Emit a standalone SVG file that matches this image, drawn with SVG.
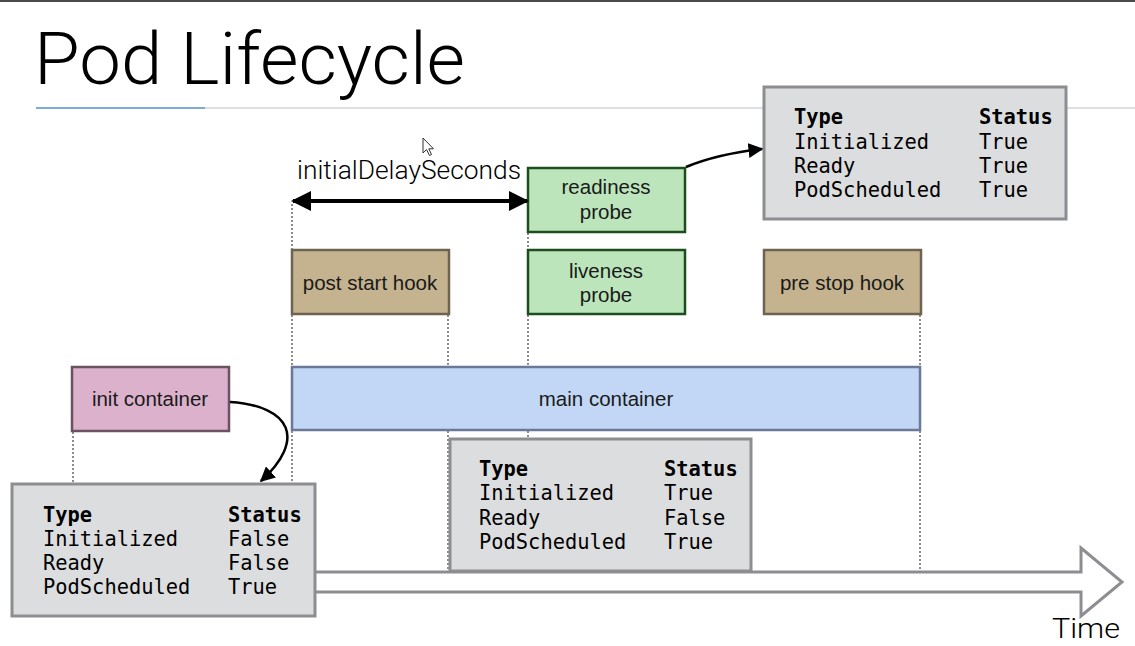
<svg xmlns="http://www.w3.org/2000/svg" width="1135" height="646" viewBox="0 0 1135 646">
  <style>
    .title { font-family: Roboto, "Liberation Sans", sans-serif; font-weight: 300; fill: #000; }
    .lbl { font-family: "Liberation Sans", Arial, sans-serif; font-size: 20.5px; fill: #1a1a1a; text-anchor: middle; }
    .mono { font-family: "DejaVu Sans Mono", "Liberation Mono", monospace; font-size: 20.4px; fill: #000; }
    .mono .h { font-weight: bold; }
    .status { fill: #dcdddf; stroke: #8d8e92; stroke-width: 3; }
    .green { fill: #bce5bc; stroke: #1d4e1d; stroke-width: 2.5; }
    .tan { fill: #c4b38e; stroke: #6e6350; stroke-width: 2.5; }
    .dot { stroke: #8c8c8c; stroke-width: 2; stroke-dasharray: 2 2; fill: none; }
    .conn { stroke: #000; fill: none; }
  </style>
  <defs>
    <marker id="head" viewBox="0 0 10 10" refX="9" refY="5" markerWidth="5" markerHeight="5" orient="auto-start-reverse">
      <path d="M0,0 L10,5 L0,10 z" fill="#000"/>
    </marker>
    <marker id="headSmall" viewBox="0 0 10 10" refX="9" refY="5" markerWidth="6" markerHeight="6" orient="auto">
      <path d="M0,0 L10,5 L0,10 z" fill="#000"/>
    </marker>
  </defs>

  <rect width="1135" height="646" fill="#fff"/>
  <!-- window edge and title rule -->
  <rect x="0" y="0" width="1135" height="2" fill="#4a4a4a"/>
  <line x1="36" y1="108" x2="1135" y2="108" stroke="#d4d4d4" stroke-width="1.5"/>
  <line x1="36" y1="108" x2="205" y2="108" stroke="#5b9bd5" stroke-width="1.5"/>

  <text class="title" x="34" y="84" font-size="72" textLength="431" lengthAdjust="spacingAndGlyphs">Pod Lifecycle</text>

  <!-- time axis: hollow arrow -->
  <g id="time-axis">
    <path d="M300,572 L1081,572 L1081,548 L1122,582 L1081,616 L1081,592 L300,592" fill="#fff" stroke="#8e8e92" stroke-width="3" stroke-linejoin="miter"/>
    <text class="title" x="1052" y="638" font-size="28" textLength="68" lengthAdjust="spacingAndGlyphs">Time</text>
  </g>

  <!-- timeline guides -->
  <g id="guides">
    <line class="dot" x1="73" y1="432" x2="73" y2="483"/>
    <line class="dot" x1="292" y1="204" x2="292" y2="250"/>
    <line class="dot" x1="292" y1="315" x2="292" y2="367"/>
    <line class="dot" x1="292" y1="431" x2="292" y2="483"/>
    <line class="dot" x1="448" y1="315" x2="448" y2="367"/>
    <line class="dot" x1="448" y1="431" x2="448" y2="572"/>
    <line class="dot" x1="528" y1="233" x2="528" y2="250"/>
    <line class="dot" x1="528" y1="315" x2="528" y2="367"/>
    <line class="dot" x1="528" y1="431" x2="528" y2="438"/>
    <line class="dot" x1="920" y1="315" x2="920" y2="367"/>
    <line class="dot" x1="920" y1="431" x2="920" y2="572"/>
  </g>

  <g id="init-container">
    <rect x="72" y="367" width="157" height="64" fill="#dbb1cb" stroke="#6b5260" stroke-width="2.5"/>
    <text class="lbl" x="150" y="406">init container</text>
  </g>

  <g id="main-container">
    <rect x="292" y="367" width="628" height="63" fill="#c2d6f5" stroke="#6b7896" stroke-width="2.5"/>
    <text class="lbl" x="606" y="406">main container</text>
  </g>

  <g id="post-start-hook">
    <rect class="tan" x="292" y="250" width="157" height="64"/>
    <text class="lbl" x="370" y="290">post start hook</text>
  </g>

  <g id="pre-stop-hook">
    <rect class="tan" x="764" y="250" width="157" height="64"/>
    <text class="lbl" x="842" y="290">pre stop hook</text>
  </g>

  <g id="readiness-probe">
    <rect class="green" x="528" y="168" width="157" height="64"/>
    <text class="lbl" x="606" y="194">readiness</text>
    <text class="lbl" x="606" y="219">probe</text>
  </g>

  <g id="liveness-probe">
    <rect class="green" x="528" y="250" width="157" height="64"/>
    <text class="lbl" x="606" y="278">liveness</text>
    <text class="lbl" x="606" y="302">probe</text>
  </g>

  <g id="delay-label">
    <text class="title" x="297" y="179" font-size="25" fill="#111" textLength="224" lengthAdjust="spacingAndGlyphs">initialDelaySeconds</text>
  </g>

  <g id="status-start">
    <rect class="status" x="12" y="484" width="303" height="132"/>
    <text class="mono" x="43" y="522"><tspan class="h">Type</tspan><tspan class="h" x="228">Status</tspan></text>
    <text class="mono" x="43" y="546">Initialized<tspan x="228">False</tspan></text>
    <text class="mono" x="43" y="570">Ready<tspan x="228">False</tspan></text>
    <text class="mono" x="43" y="594">PodScheduled<tspan x="228">True</tspan></text>
  </g>

  <g id="status-running">
    <rect class="status" x="450" y="439" width="301" height="132"/>
    <text class="mono" x="479" y="476"><tspan class="h">Type</tspan><tspan class="h" x="664">Status</tspan></text>
    <text class="mono" x="479" y="500">Initialized<tspan x="664">True</tspan></text>
    <text class="mono" x="479" y="525">Ready<tspan x="664">False</tspan></text>
    <text class="mono" x="479" y="549">PodScheduled<tspan x="664">True</tspan></text>
  </g>

  <g id="status-ready">
    <rect class="status" x="764" y="87" width="302" height="132"/>
    <text class="mono" x="794" y="124"><tspan class="h">Type</tspan><tspan class="h" x="979">Status</tspan></text>
    <text class="mono" x="794" y="149">Initialized<tspan x="979">True</tspan></text>
    <text class="mono" x="794" y="173">Ready<tspan x="979">True</tspan></text>
    <text class="mono" x="794" y="197">PodScheduled<tspan x="979">True</tspan></text>
  </g>

  <g id="connectors">
    <line class="conn" x1="293" y1="201" x2="527" y2="201" stroke-width="4" marker-start="url(#head)" marker-end="url(#head)"/>
    <path class="conn" d="M686,167 C710,157 735,152 762,149" stroke-width="2.5" marker-end="url(#headSmall)"/>
    <path class="conn" d="M230,402 C292,406 306,440 261,481" stroke-width="2.5" marker-end="url(#headSmall)"/>
  </g>

  <!-- pointer -->
  <path d="M423,138 L423,153 L426.5,149.5 L429.5,155.5 L431.5,154.5 L428.8,148.8 L433.5,148.8 Z" fill="#fff" stroke="#333" stroke-width="1"/>
</svg>
